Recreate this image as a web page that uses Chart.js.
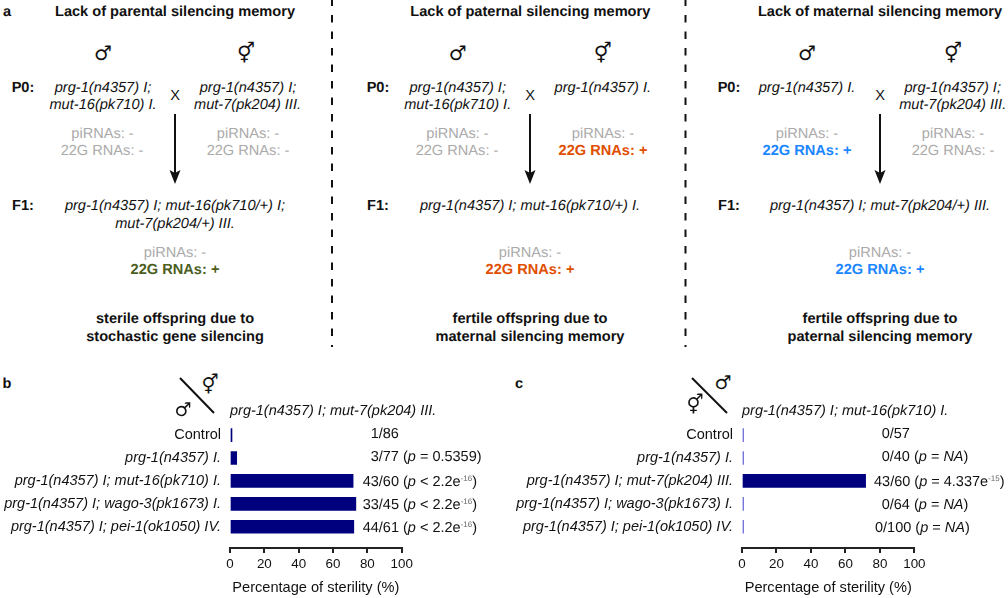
<!DOCTYPE html>
<html>
<head>
<meta charset="utf-8">
<script src="https://cdn.jsdelivr.net/npm/chart.js@4"></script>
<style>
html,body{margin:0;padding:0;background:#fff;width:1008px;height:598px;overflow:hidden}
body{position:relative;font-family:"Liberation Sans",Arial,sans-serif;color:#111;text-rendering:geometricPrecision}
.t{position:absolute;white-space:nowrap;line-height:1;font-size:14.6px;transform:translate(-50%,calc(-50% + 0.7px))}
.l{position:absolute;white-space:nowrap;line-height:1;font-size:14.5px;transform:translateY(calc(-50% + 0.7px))}
.b{font-weight:bold}.i{font-style:italic}
.h{font-size:14.6px;font-weight:bold}
.g{color:#aaa}
.sym{font-family:"DejaVu Sans";font-size:20px;font-weight:bold}
.sym2{font-family:"DejaVu Sans";font-size:19px}
sup{font-size:8px;color:#666;line-height:0;vertical-align:baseline;position:relative;top:-5px}
canvas{position:absolute}
svg{position:absolute;left:0;top:0}
</style>
</head>
<body>
<svg width="1008" height="598">
  <g stroke="#111" stroke-width="2" stroke-dasharray="7.5 9">
    <line x1="332" y1="-1.5" x2="332" y2="347"/>
    <line x1="685.5" y1="-1.5" x2="685.5" y2="347"/>
  </g>
  <g stroke="#111" stroke-width="2">
    <line x1="175" y1="114" x2="175" y2="174"/>
    <line x1="530" y1="114" x2="530" y2="174"/>
    <line x1="880" y1="114" x2="880" y2="174"/>
    <line x1="180" y1="378" x2="214" y2="413"/>
    <line x1="692" y1="378" x2="727" y2="413"/>
  </g>
  <g fill="#111">
    <polygon points="169.5,170 175,173 180.5,170 175,184"/>
    <polygon points="524.5,170 530,173 535.5,170 530,184"/>
    <polygon points="874.5,170 880,173 885.5,170 880,184"/>
  </g>
</svg>
<canvas id="chartB" style="left:0;top:406px"></canvas>
<canvas id="chartC" style="left:500px;top:406px"></canvas>
<div id="text"></div>
<script>
// ---- Data ----
const categoriesB = ['Control','prg-1(n4357) I.','prg-1(n4357) I; mut-16(pk710) I.','prg-1(n4357) I; wago-3(pk1673) I.','prg-1(n4357) I; pei-1(ok1050) IV.'];
const sterilityB = [1.16, 3.9, 71.7, 73.3, 72.1];
const countsB = ['1/86','3/77','43/60','33/45','44/61'];
const pvalsB = ['', '(<i>p</i> = 0.5359)', '(<i>p</i> &lt; 2.2e<sup>-16</sup>)', '(<i>p</i> &lt; 2.2e<sup>-16</sup>)', '(<i>p</i> &lt; 2.2e<sup>-16</sup>)'];

const categoriesC = ['Control','prg-1(n4357) I.','prg-1(n4357) I; mut-7(pk204) III.','prg-1(n4357) I; wago-3(pk1673) I.','prg-1(n4357) I; pei-1(ok1050) IV.'];
const sterilityC = [0, 0, 71.7, 0, 0];
const countsC = ['0/57','0/40','43/60','0/64','0/100'];
const pvalsC = ['', '(<i>p</i> = <i>NA</i>)', '(<i>p</i> = 4.337e<sup>-15</sup>)', '(<i>p</i> = <i>NA</i>)', '(<i>p</i> = <i>NA</i>)'];

const tickValues = [0,20,40,60,80,100];
const axisTitle = 'Percentage of sterility (%)';

// ---- Layout (not data) ----
const labelLeftB = [370.7,370.7,362.7,362.7,362.7];
const labelLeftC = [381.7,381.7,374,381.7,375];
const labelNudge = [-1.5,-1.3,1,0.7,1.3];
const canvasTop = 406;

function makeChart(id, cats, vals, width, plotLeft, plotWidth){
  const el = document.getElementById(id);
  el.width = width; el.height = 192;
  el.style.width = width+'px'; el.style.height = '192px';
  return new Chart(el, {
    type:'bar',
    data:{datasets:[{
      data: vals.map((v,i)=>({x:v,y:i})),
      backgroundColor: c => (c.raw && c.raw.x===0) ? '#5a5ad2' : '#00007f',
      barThickness:13,
      minBarLength:1.5,
      borderWidth:0
    }]},
    options:{
      indexAxis:'y',
      responsive:false,
      animation:false,
      layout:{padding:{top:10,right:width-plotLeft-plotWidth,left:0,bottom:0}},
      plugins:{legend:{display:false},tooltip:{enabled:false}},
      scales:{
        x:{
          type:'linear',min:0,max:100,
          afterBuildTicks:s=>{s.ticks=tickValues.map(v=>({value:v}));},
          afterFit:s=>{s.height=50;},
          grid:{display:true,drawOnChartArea:false,drawTicks:true,tickLength:5,color:'#222',lineWidth:2},
          border:{display:true,color:'#222',width:2},
          ticks:{color:'#111',font:{family:'"Liberation Sans"',size:13.4},padding:3,maxRotation:0,autoSkip:false},
          title:{display:true,text:axisTitle,color:'#111',font:{family:'"Liberation Sans"',size:14.6},padding:{top:6,bottom:1}}
        },
        y:{
          type:'linear',reverse:true,min:-0.5,max:4.93,offset:false,bounds:'data',
          afterBuildTicks:s=>{s.ticks=cats.map((_,i)=>({value:i}));},
          afterFit:s=>{s.width=plotLeft;},
          grid:{display:false,drawTicks:false,offset:false},
          border:{display:false},
          ticks:{
            callback:v=>cats[v],
            autoSkip:false,
            color:'#111',
            padding:9,
            font:c=>({family:'"Liberation Sans"',size:14.5,style:c.index===0?'normal':'italic'})
          }
        }
      }
    }
  });
}
const chartB = makeChart('chartB',categoriesB,sterilityB,460,230,171.7);
const chartC = makeChart('chartC',categoriesC,sterilityC,508,242,172.4);

// ---- Text ----
const host = document.getElementById('text');
function T(cx,cy,html,cls){const d=document.createElement('div');d.className='t '+(cls||'');d.style.left=cx+'px';d.style.top=cy+'px';d.innerHTML=html;host.appendChild(d);}
function L(x,cy,html,cls){const d=document.createElement('div');d.className='l '+(cls||'');d.style.left=x+'px';d.style.top=cy+'px';d.innerHTML=html;host.appendChild(d);}

const MALE='\u2642', HERM='\u26A5';
const ORANGE='#e04e00', BLUE='#1a86ff', GREEN='#4b5e1e';

T(7,12,'a','b');T(7,384,'b','b');T(519,384,'c','b');

// Panel a, column 1
T(175,11.5,'Lack of parental silencing memory','h');
T(103,52,MALE,'sym');T(246,52,HERM,'sym');
T(23,88,'P0:','b');T(103,88,'prg-1(n4357) I;','i');T(103,105,'mut-16(pk710) I.','i');
T(248,88,'prg-1(n4357) I;','i');T(247.5,105,'mut-7(pk204) III.','i');
T(175,96,'X');
T(102.5,134,'piRNAs: -','g');T(102,151,'22G RNAs: -','g');
T(248,134,'piRNAs: -','g');T(248,151,'22G RNAs: -','g');
T(23,206,'F1:','b');T(175,206,'prg-1(n4357) I; mut-16(pk710/+) I;','i');T(175,223.5,'mut-7(pk204/+) III.','i');
T(175,253,'piRNAs: -','g');
const add=(cx,cy,c)=>{const d=document.createElement('div');d.className='t b';d.style.left=cx+'px';d.style.top=cy+'px';d.style.color=c;d.textContent='22G RNAs: +';host.appendChild(d);};
add(175,270,GREEN);
T(175,319,'sterile offspring due to','b');T(175,337,'stochastic gene silencing','b');

// Panel a, column 2
T(530.3,11.5,'Lack of paternal silencing memory','h');
T(457.7,52,MALE,'sym');T(602.7,52,HERM,'sym');
T(378,88,'P0:','b');T(457.7,88,'prg-1(n4357) I;','i');T(457.7,105,'mut-16(pk710) I.','i');
T(602.8,88,'prg-1(n4357) I.','i');
T(530,96,'X');
T(457.5,134,'piRNAs: -','g');T(457,151,'22G RNAs: -','g');
T(603,134,'piRNAs: -','g');add(603,151,ORANGE);
T(378,206,'F1:','b');T(530,206,'prg-1(n4357) I; mut-16(pk710/+) I.','i');
T(530,253,'piRNAs: -','g');add(530,270,ORANGE);
T(530,319,'fertile offspring due to','b');T(530,337,'maternal silencing memory','b');

// Panel a, column 3
T(880,11.5,'Lack of maternal silencing memory','h');
T(807,52,MALE,'sym');T(953,52,HERM,'sym');
T(729,88,'P0:','b');T(807,88,'prg-1(n4357) I.','i');
T(952.7,88,'prg-1(n4357) I;','i');T(952.7,105,'mut-7(pk204) III.','i');
T(880,96,'X');
T(807,134,'piRNAs: -','g');add(807,151,BLUE);
T(953,134,'piRNAs: -','g');T(953,151,'22G RNAs: -','g');
T(729,206,'F1:','b');T(880,206,'prg-1(n4357) I; mut-7(pk204/+) III.','i');
T(880,253,'piRNAs: -','g');add(880,270,BLUE);
T(880,319,'fertile offspring due to','b');T(880,337,'paternal silencing memory','b');

// Panel b / c headers
T(210,385,HERM,'sym2');T(183,410,MALE,'sym2');
L(230,411,'prg-1(n4357) I; mut-7(pk204) III.','i');
T(723,383,MALE,'sym2');T(695,405,HERM,'sym2');
L(742,411,'prg-1(n4357) I; mut-16(pk710) I.','i');

// Row annotations, placed on the library's y scale
function rowLabels(chart,offsetX,offsetY,counts,pvals,lefts){
  counts.forEach((c,i)=>{
    const y = offsetY + chart.scales.y.getPixelForValue(i) + labelNudge[i];
    L(offsetX+lefts[i], y, c + (pvals[i] ? ' ' + pvals[i] : ''));
  });
}
rowLabels(chartB,0,canvasTop,countsB,pvalsB,labelLeftB);
rowLabels(chartC,500,canvasTop,countsC,pvalsC,labelLeftC);
</script>
</body>
</html>
